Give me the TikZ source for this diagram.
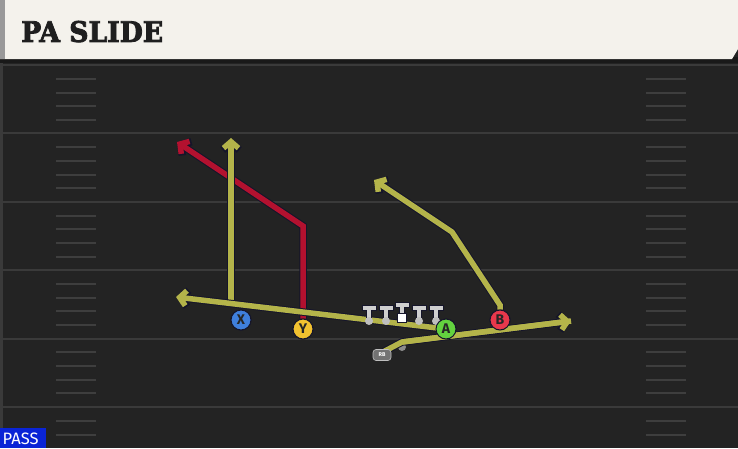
\documentclass[tikz,border=0pt]{standalone}
\usepackage{fontspec}
\usepackage{graphicx}
\usetikzlibrary{arrows.meta}
\newfontfamily\titlefont[FakeBold=3]{DejaVu Serif}
\newfontfamily\labelfont{Fira Sans}
\definecolor{fieldbg}{HTML}{232323}
\definecolor{yardc}{HTML}{3A3A3A}
\definecolor{hashc}{HTML}{3E3E3E}
\definecolor{headc}{HTML}{F4F2EC}
\definecolor{routey}{HTML}{B4B44A}
\definecolor{router}{HTML}{B3112F}
\definecolor{outl}{HTML}{15152A}
\definecolor{xblue}{HTML}{3F7FDC}
\definecolor{yyel}{HTML}{F2C230}
\definecolor{agreen}{HTML}{63D23F}
\definecolor{bred}{HTML}{E8384C}
\definecolor{olgray}{HTML}{CFCFCF}
\definecolor{passblue}{HTML}{0A24D6}
\tikzset{
  route/.style={line width=5.5pt, line join=miter, -{Straight Barb[length=6.5pt,width=15pt,line width=5.5pt]},
     preaction={draw=outl, line width=7.5pt, -{Straight Barb[length=7pt,width=16.5pt,line width=7.5pt]}}},
  yroute/.style={route, draw=routey},
  rroute/.style={route, draw=router},
  player/.style={circle, draw=outl, line width=1pt, minimum size=20pt, inner sep=0pt,
     font=\labelfont\bfseries\fontsize{14}{14}\selectfont, text=black!85},
  yard/.style={draw=yardc, line width=2pt},
  hash/.style={draw=hashc, line width=2pt},
  tbar/.style={draw=olgray, line width=3.8pt},
  tout/.style={draw=outl, line width=5.8pt},
  ol/.style={circle, fill=olgray!80!gray, inner sep=0pt, minimum size=8pt}
}
\begin{document}
\begin{tikzpicture}[x=1pt,y=-1pt]
\useasboundingbox (0,0) rectangle (738,448);
% field
\fill[fieldbg] (0,0) rectangle (738,448);
\fill[yardc] (0,60) rectangle (2.5,448);
% yard lines
\foreach \y in {65,133.4,201.8,270.2,338.6,407} {
  \draw[yard] (2,\y) -- (738,\y);
}
% hashes
\foreach \y in {79,92.7,106.4,120,147,160.8,174.5,188.2,215.5,229.2,242.9,256.6,284,297.6,311.3,325,352.3,366,379.7,393.4,421,434.7} {
  \draw[hash] (56,\y) -- (96,\y);
  \draw[hash] (646,\y) -- (686,\y);
}
% header
\fill[black!90] (0,57) rectangle (738,63);
\fill[headc] (0,0) -- (738,0) -- (738,49) -- (732,59) -- (0,59) -- cycle;
\fill[black!40] (0,0) rectangle (5,59);
\node[anchor=south west, inner sep=0pt, text=black!88] (title) at (21,42.5)
  {\resizebox{142pt}{21pt}{\titlefont\bfseries PA SLIDE}};
% players
\node[player, fill=xblue] (X) at (241,320) {X};
\node[player, fill=yyel] (Y) at (303,329) {Y};
\node[player, fill=agreen] (A) at (446,329) {A};
\node[player, fill=bred] (B) at (500,320) {B};
% coordinates of routes
\coordinate (xs) at (231,304);
\coordinate (xe) at (231,138);
\coordinate (ye1) at (303,226);
\coordinate (ye) at (177,142);
\coordinate (ae) at (176,297);
\coordinate (rb1) at (402,342);
\coordinate (rbe) at (571,321);
\coordinate (b1) at (500,305);
\coordinate (b2) at (452,232);
\coordinate (be) at (374,180);
% routes
\draw[rroute] (Y.north) -- (ye1) -- (ye);
\draw[yroute] (xs) -- (xe);
\draw[yroute] (A.center) -- (ae);
\draw[yroute] (B.north) -- (b1) -- (b2) -- (be);
% line
\foreach \x/\n in {369/l1,386/l2,419/l4,436/l5} {
  \draw[tout] (\x,308) -- (\x,320);
  \draw[tout] (\x-7.5,308) -- (\x+7.5,308);
  \draw[tbar] (\x,308) -- (\x,320);
  \draw[tbar] (\x-6.5,308) -- (\x+6.5,308);
  \node[ol] (\n) at (\x,321) {};
}
\draw[tout] (402,305) -- (402,314);
\draw[tout] (394.5,305) -- (409.5,305);
\draw[tbar] (402,305) -- (402,314);
\draw[tbar] (395.5,305) -- (408.5,305);
\node[fill=white, draw=outl, line width=0.6pt, minimum size=9pt, inner sep=0pt] (C) at (402,318) {};
% RB route
\node[circle, fill=black!45, inner sep=0pt, minimum size=8pt] (QB) at (402,347) {};
\draw[yroute, -] (383,352) -- (rb1) -- (rbe);
\draw[draw=routey, line width=5.5pt, -{Straight Barb[length=6.5pt,width=15pt,line width=5.5pt]}] (rb1) -- (rbe);
\node[fill=black!55, draw=black!25, line width=0.6pt, rounded corners=3pt, minimum width=18pt, minimum height=11pt, inner sep=0pt,
  font=\labelfont\bfseries\fontsize{5.5}{5.5}\selectfont, text=white] (RB) at (382,355) {RB};
% player circles on top again
\node[player, fill=xblue] at (X) {X};
\node[player, fill=yyel] at (Y) {Y};
\node[player, fill=agreen] at (A) {A};
\node[player, fill=bred] at (B) {B};
% pass label
\fill[passblue] (0,428) rectangle (46,448);
\node[anchor=west, inner sep=0pt, text=white, font=\labelfont\fontsize{16.5}{16.5}\selectfont] (pass) at (2.5,438.5) {PASS};
\end{tikzpicture}
\end{document}
